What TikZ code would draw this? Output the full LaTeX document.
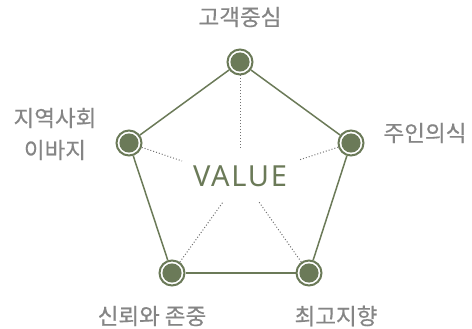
\documentclass[tikz,border=0pt]{standalone}
\usepackage{fontspec}
\setmainfont{Noto Sans CJK KR}
\newfontfamily\labelfont[FakeBold=0.5]{Noto Sans CJK KR}
\newfontfamily\valuefont[LetterSpace=6]{Noto Sans}
\definecolor{leaf}{HTML}{6B7A58}
\definecolor{ash}{HTML}{858585}

\begin{document}
\begin{tikzpicture}[x=1pt, y=-1pt,
  dot/.style={shape=circle, draw=leaf, line width=2pt, fill=white, minimum size=25pt, inner sep=0pt,
    path picture={\fill[leaf] (path picture bounding box.center) circle (9.6pt);}},
  side/.style={-, line width=1.5pt, draw=leaf},
  ray/.style={-, dotted, line width=1pt, draw=black!55},
  word/.style={text=ash, font=\labelfont\fontsize{22.5}{32}\selectfont, align=center, inner sep=0pt}]
\useasboundingbox (0,0) rectangle (472,329);
% the five values
\node[dot] (top) at (240,62) {};
\node[dot] (left) at (129,143) {};
\node[dot] (right) at (351,143) {};
\node[dot] (bl) at (172,273) {};
\node[dot] (br) at (309,273) {};
\node[text=leaf, font=\valuefont\fontsize{29}{30}\selectfont, inner sep=0pt] (value) at (240,176) {VALUE};
% where the dotted rays stop
\coordinate (topend) at (240,148);
\coordinate (leftend) at (182,161);
\coordinate (rightend) at (299,160);
\coordinate (blend) at (223,202);
\coordinate (brend) at (259,202);
\path [side] (top) edge (right);
\path [side] (right) edge (br);
\path [side] (br) edge (bl);
\path [side] (bl) edge (left);
\path [side] (left) edge (top);
\path [ray] (top) edge (topend);
\path [ray] (left) edge (leftend);
\path [ray] (right) edge (rightend);
\path [ray] (bl) edge (blend);
\path [ray] (br) edge (brend);
% labels
\node[word] (toplabel) at (240,17) {고객중심};
\node[word] (leftlabel) at (55,134) {지역사회\\이바지};
\node[word] (rightlabel) at (425,133) {주인의식};
\node[word] (bllabel) at (152,316) {신뢰와 존중};
\node[word] (brlabel) at (336,316) {최고지향};
\end{tikzpicture}
\end{document}
